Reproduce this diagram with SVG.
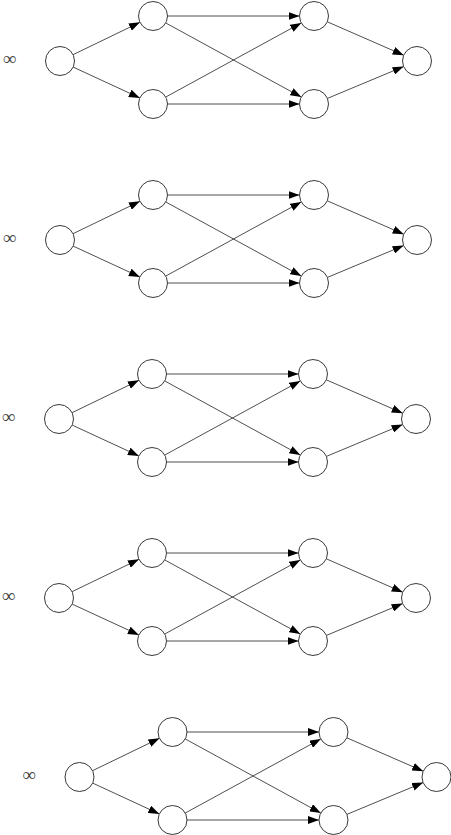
<svg xmlns="http://www.w3.org/2000/svg" width="451" height="835" viewBox="0 0 451 835">
<style>
.n{fill:#fff;stroke:#222;stroke-width:0.9}
.e{stroke:#222;stroke-width:0.8;fill:none;marker-end:url(#ah)}
.l{font-family:"Liberation Serif","Times New Roman",serif;font-size:19px;fill:#444;text-anchor:middle}
</style>
<defs>
<marker id="ah" markerUnits="userSpaceOnUse" markerWidth="11" markerHeight="8" refX="11" refY="4" orient="auto">
<path d="M0,0 L11,4 L0,8 z" fill="#000"/>
</marker>
</defs>
<g id="graph1" transform="translate(0,0)">
<g id="g1-connectors">
<line class="e" x1="73.05" y1="54.68" x2="139.95" y2="22.32"/>
<line class="e" x1="73.16" y1="67.09" x2="139.84" y2="97.91"/>
<line class="e" x1="167.5" y1="16" x2="299.5" y2="16"/>
<line class="e" x1="167.5" y1="104" x2="299.5" y2="104"/>
<line class="e" x1="165.72" y1="22.95" x2="301.28" y2="97.05"/>
<line class="e" x1="165.72" y1="97.05" x2="301.28" y2="22.95"/>
<line class="e" x1="327.29" y1="21.81" x2="403.71" y2="55.19"/>
<line class="e" x1="327.38" y1="98.41" x2="403.62" y2="66.59"/>
</g>
<g id="g1-s"><circle class="n" cx="60" cy="61" r="14.5"/></g>
<g id="g1-a"><circle class="n" cx="153" cy="16" r="14.5"/></g>
<g id="g1-b"><circle class="n" cx="153" cy="104" r="14.5"/></g>
<g id="g1-c"><circle class="n" cx="314" cy="16" r="14.5"/></g>
<g id="g1-d"><circle class="n" cx="314" cy="104" r="14.5"/></g>
<g id="g1-t"><circle class="n" cx="417" cy="61" r="14.5"/></g>
<text class="l" x="9.5" y="64.5">∞</text>
</g>
<g id="graph2" transform="translate(0,179)">
<g id="g2-connectors">
<line class="e" x1="73.05" y1="54.68" x2="139.95" y2="22.32"/>
<line class="e" x1="73.16" y1="67.09" x2="139.84" y2="97.91"/>
<line class="e" x1="167.5" y1="16" x2="299.5" y2="16"/>
<line class="e" x1="167.5" y1="104" x2="299.5" y2="104"/>
<line class="e" x1="165.72" y1="22.95" x2="301.28" y2="97.05"/>
<line class="e" x1="165.72" y1="97.05" x2="301.28" y2="22.95"/>
<line class="e" x1="327.29" y1="21.81" x2="403.71" y2="55.19"/>
<line class="e" x1="327.38" y1="98.41" x2="403.62" y2="66.59"/>
</g>
<g id="g2-s"><circle class="n" cx="60" cy="61" r="14.5"/></g>
<g id="g2-a"><circle class="n" cx="153" cy="16" r="14.5"/></g>
<g id="g2-b"><circle class="n" cx="153" cy="104" r="14.5"/></g>
<g id="g2-c"><circle class="n" cx="314" cy="16" r="14.5"/></g>
<g id="g2-d"><circle class="n" cx="314" cy="104" r="14.5"/></g>
<g id="g2-t"><circle class="n" cx="417" cy="61" r="14.5"/></g>
<text class="l" x="9.5" y="64.5">∞</text>
</g>
<g id="graph3" transform="translate(-1,358)">
<g id="g3-connectors">
<line class="e" x1="73.05" y1="54.68" x2="139.95" y2="22.32"/>
<line class="e" x1="73.16" y1="67.09" x2="139.84" y2="97.91"/>
<line class="e" x1="167.5" y1="16" x2="299.5" y2="16"/>
<line class="e" x1="167.5" y1="104" x2="299.5" y2="104"/>
<line class="e" x1="165.72" y1="22.95" x2="301.28" y2="97.05"/>
<line class="e" x1="165.72" y1="97.05" x2="301.28" y2="22.95"/>
<line class="e" x1="327.29" y1="21.81" x2="403.71" y2="55.19"/>
<line class="e" x1="327.38" y1="98.41" x2="403.62" y2="66.59"/>
</g>
<g id="g3-s"><circle class="n" cx="60" cy="61" r="14.5"/></g>
<g id="g3-a"><circle class="n" cx="153" cy="16" r="14.5"/></g>
<g id="g3-b"><circle class="n" cx="153" cy="104" r="14.5"/></g>
<g id="g3-c"><circle class="n" cx="314" cy="16" r="14.5"/></g>
<g id="g3-d"><circle class="n" cx="314" cy="104" r="14.5"/></g>
<g id="g3-t"><circle class="n" cx="417" cy="61" r="14.5"/></g>
<text class="l" x="9.5" y="64.5">∞</text>
</g>
<g id="graph4" transform="translate(-1,537)">
<g id="g4-connectors">
<line class="e" x1="73.05" y1="54.68" x2="139.95" y2="22.32"/>
<line class="e" x1="73.16" y1="67.09" x2="139.84" y2="97.91"/>
<line class="e" x1="167.5" y1="16" x2="299.5" y2="16"/>
<line class="e" x1="167.5" y1="104" x2="299.5" y2="104"/>
<line class="e" x1="165.72" y1="22.95" x2="301.28" y2="97.05"/>
<line class="e" x1="165.72" y1="97.05" x2="301.28" y2="22.95"/>
<line class="e" x1="327.29" y1="21.81" x2="403.71" y2="55.19"/>
<line class="e" x1="327.38" y1="98.41" x2="403.62" y2="66.59"/>
</g>
<g id="g4-s"><circle class="n" cx="60" cy="61" r="14.5"/></g>
<g id="g4-a"><circle class="n" cx="153" cy="16" r="14.5"/></g>
<g id="g4-b"><circle class="n" cx="153" cy="104" r="14.5"/></g>
<g id="g4-c"><circle class="n" cx="314" cy="16" r="14.5"/></g>
<g id="g4-d"><circle class="n" cx="314" cy="104" r="14.5"/></g>
<g id="g4-t"><circle class="n" cx="417" cy="61" r="14.5"/></g>
<text class="l" x="9.5" y="64.5">∞</text>
</g>
<g id="graph5" transform="translate(19.5,716)">
<g id="g5-connectors">
<line class="e" x1="73.05" y1="54.68" x2="139.95" y2="22.32"/>
<line class="e" x1="73.16" y1="67.09" x2="139.84" y2="97.91"/>
<line class="e" x1="167.5" y1="16" x2="299.5" y2="16"/>
<line class="e" x1="167.5" y1="104" x2="299.5" y2="104"/>
<line class="e" x1="165.72" y1="22.95" x2="301.28" y2="97.05"/>
<line class="e" x1="165.72" y1="97.05" x2="301.28" y2="22.95"/>
<line class="e" x1="327.29" y1="21.81" x2="403.71" y2="55.19"/>
<line class="e" x1="327.38" y1="98.41" x2="403.62" y2="66.59"/>
</g>
<g id="g5-s"><circle class="n" cx="60" cy="61" r="14.5"/></g>
<g id="g5-a"><circle class="n" cx="153" cy="16" r="14.5"/></g>
<g id="g5-b"><circle class="n" cx="153" cy="104" r="14.5"/></g>
<g id="g5-c"><circle class="n" cx="314" cy="16" r="14.5"/></g>
<g id="g5-d"><circle class="n" cx="314" cy="104" r="14.5"/></g>
<g id="g5-t"><circle class="n" cx="417" cy="61" r="14.5"/></g>
<text class="l" x="9.5" y="64.5">∞</text>
</g>
</svg>
